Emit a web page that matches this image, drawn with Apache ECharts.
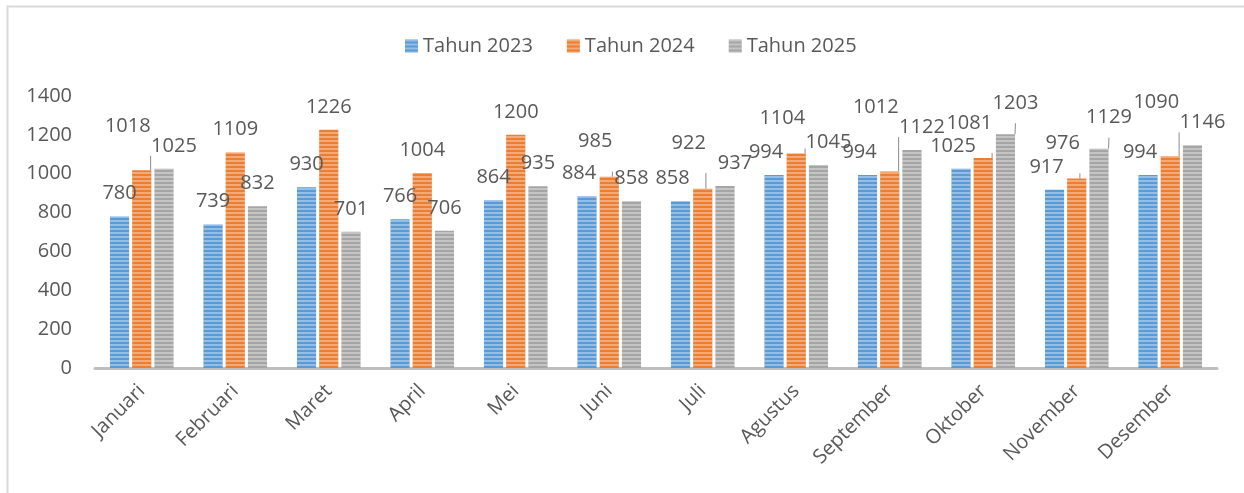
<!DOCTYPE html>
<html>
<head>
<meta charset="utf-8">
<script src="https://cdn.jsdelivr.net/npm/echarts@6/dist/echarts.min.js"></script>
<style>
  html, body { margin: 0; padding: 0; background: #fff; }
  #chart { width: 1244px; height: 493px; }
</style>
</head>
<body>
<div id="chart"></div>
<script>
const months = ['Januari', 'Februari', 'Maret', 'April', 'Mei', 'Juni', 'Juli',
  'Agustus', 'September', 'Oktober', 'November', 'Desember']
const seriesNames = ['Tahun 2023', 'Tahun 2024', 'Tahun 2025']
const tahun2023 = [780, 739, 930, 766, 864, 884, 858, 994, 994, 1025, 917, 994]
const tahun2024 = [1018, 1109, 1226, 1004, 1200, 985, 922, 1104, 1012, 1081, 976, 1090]
const tahun2025 = [1025, 832, 701, 706, 935, 858, 937, 1045, 1122, 1203, 1129, 1146]
const yTicks = [0, 200, 400, 600, 800, 1000, 1200, 1400]

const COLORS = ['#5B9BD5', '#ED7D31', '#A5A5A5']
const TEXT = '#595959'
const FONT = "'Open Sans', sans-serif"

// plot geometry used to decide which data labels collide (like Excel's manual nudges)
const PLOT_H = 272
const PX_PER_UNIT = PLOT_H / (yTicks[yTicks.length - 1] - yTicks[0])
const LABEL_H = 22

// Excel style horizontal stripe fill
const stripes = {
  symbol: 'rect',
  dashArrayX: [1, 0],
  dashArrayY: [2, 2],
  rotation: 0,
  color: 'rgba(255,255,255,0.35)'
}

function collide(v1, v2) {
  return Math.abs(v1 - v2) * PX_PER_UNIT < LABEL_H
}

// work out label nudges per month so neighbouring labels don't sit on top of each other
const nudges = [[], [], []]
months.forEach(function (m, i) {
  const a = tahun2023[i], b = tahun2024[i], c = tahun2025[i]
  const hitA = collide(a, b), hitC = collide(c, b)
  nudges[0][i] = { dx: hitA ? -8 : 0, dy: 0, line: false }
  nudges[2][i] = { dx: hitC ? 10 : 0, dy: 0, line: false }
  if (hitA || hitC) {
    let top = -Infinity
    if (hitA) top = Math.max(top, a)
    if (hitC) top = Math.max(top, c)
    const dy = -(top - b) * PX_PER_UNIT - LABEL_H + 2
    nudges[1][i] = { dx: -14, dy: Math.min(dy, -12), line: true }
    // after lifting, the 2025 label may now clash with the lifted one
    const orangeBottom = -b * PX_PER_UNIT + nudges[1][i].dy
    const grayBottom = -c * PX_PER_UNIT
    if (!hitC && Math.abs(orangeBottom - grayBottom) < LABEL_H) {
      nudges[2][i] = { dx: 10, dy: -8, line: true }
    }
  } else {
    nudges[1][i] = { dx: 0, dy: 0, line: false }
  }
})

const chart = echarts.init(document.getElementById('chart'))

function makeSeries(name, data, s) {
  return {
    name: name,
    type: 'bar',
    barGap: '16%',
    barCategoryGap: '32%',
    itemStyle: { color: COLORS[s], decal: stripes },
    label: {
      show: true,
      position: 'top',
      distance: 13,
      color: TEXT,
      fontSize: 20,
      fontFamily: FONT
    },
    labelLine: { show: false, lineStyle: { color: '#8c8c8c', width: 1 } },
    data: data.map(function (v, i) {
      const n = nudges[s][i]
      return {
        value: v,
        label: { offset: [n.dx, n.dy] },
        labelLine: { show: n.line }
      }
    })
  }
}

chart.setOption({
  animation: false,
  textStyle: { fontFamily: FONT },
  graphic: [{
    type: 'rect',
    shape: { x: 7.5, y: 6.5, width: 1260, height: 500 },
    style: { fill: 'none', stroke: '#d9d9d9', lineWidth: 2 },
    silent: true
  }],
  legend: {
    top: 31,
    left: 400,
    itemWidth: 13,
    itemHeight: 13,
    itemGap: 34,
    icon: 'rect',
    textStyle: { color: TEXT, fontSize: 20, fontFamily: FONT },
    data: seriesNames
  },
  grid: { left: 95, right: 27, top: 96, bottom: 125 },
  xAxis: {
    type: 'category',
    data: months,
    axisLine: { lineStyle: { color: '#bfbfbf', width: 3 } },
    axisTick: { show: false },
    axisLabel: { rotate: 45, color: TEXT, fontSize: 20, fontFamily: FONT, margin: 20, interval: 0 }
  },
  yAxis: {
    type: 'value',
    min: yTicks[0],
    max: yTicks[yTicks.length - 1],
    interval: yTicks[1] - yTicks[0],
    axisLine: { show: false },
    axisTick: { show: false },
    splitLine: { show: false },
    axisLabel: { color: TEXT, fontSize: 20, fontFamily: FONT, margin: 23, formatter: function (v) { return String(v) } }
  },
  series: [
    makeSeries(seriesNames[0], tahun2023, 0),
    makeSeries(seriesNames[1], tahun2024, 1),
    makeSeries(seriesNames[2], tahun2025, 2)
  ]
})
</script>
</body>
</html>
